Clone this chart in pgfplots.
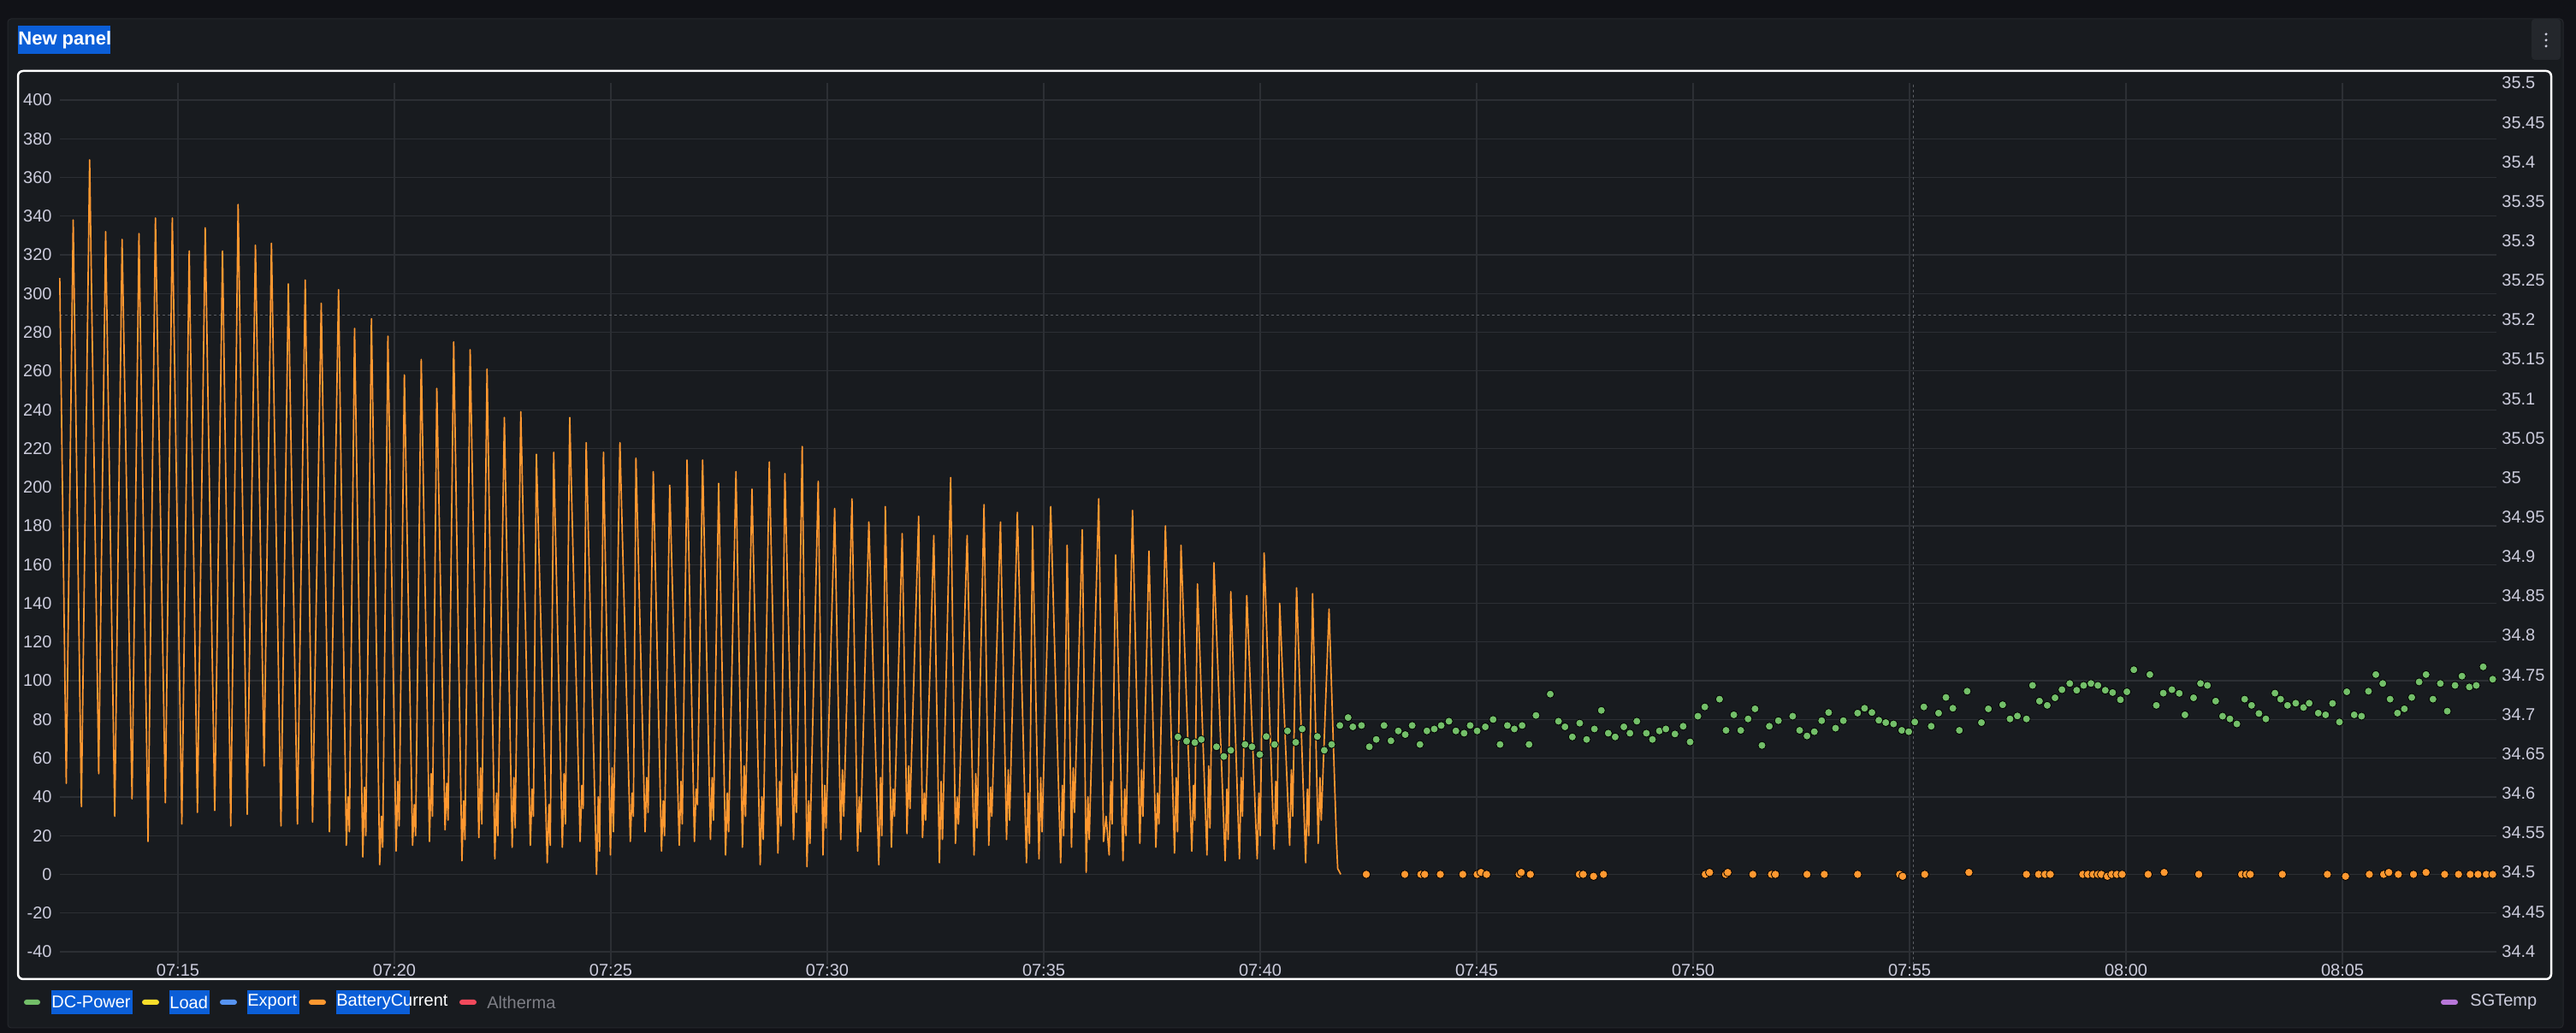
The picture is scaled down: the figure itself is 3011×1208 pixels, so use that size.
\documentclass[border=0pt]{standalone}
\usepackage{fontspec}
\setmainfont{Liberation Sans}
\usepackage{pgfplots}
\pgfplotsset{compat=1.18}
\definecolor{bgpage}{HTML}{111217}
\definecolor{bgpanel}{HTML}{181B1F}
\definecolor{panelbd}{HTML}{25272C}
\definecolor{gridc}{HTML}{2C2F34}
\definecolor{crossc}{HTML}{5A5D63}
\definecolor{txt}{HTML}{CCCCDC}
\definecolor{dimtxt}{HTML}{7E7F86}
\definecolor{selblue}{HTML}{0B5ED7}
\definecolor{btn}{HTML}{24272C}
\definecolor{gOrange}{HTML}{FF9830}
\definecolor{gGreen}{HTML}{73BF69}
\definecolor{gYellow}{HTML}{FADE2A}
\definecolor{gBlue}{HTML}{5794F2}
\definecolor{gRed}{HTML}{F2495C}
\definecolor{gPurple}{HTML}{B877D9}

\pgfplotstableread{
t v
12.27 308
12.42 47
12.58 338
12.77 35
12.96 369
13.17 52
13.33 332
13.54 30
13.71 328
13.94 39
14.10 331
14.31 17
14.48 339
14.71 37
14.87 339
15.09 26
15.26 322
15.45 32
15.63 334
15.85 33
16.03 322
16.22 25
16.39 346
16.60 31
16.79 325
16.99 56
17.16 326
17.38 25
17.55 305
17.76 26
17.94 307
18.11 27
18.31 295
18.50 22
18.71 302
18.89 15
18.93 40
18.96 22
19.08 282
19.27 9
19.31 45
19.34 20
19.47 287
19.66 5
19.70 30
19.73 14
19.85 278
20.04 12
20.08 48
20.11 25
20.23 258
20.42 15
20.46 36
20.49 20
20.62 266
20.81 17
20.85 52
20.88 30
20.98 251
21.17 23
21.21 47
21.24 28
21.37 275
21.56 7
21.60 38
21.63 18
21.75 271
21.95 19
21.99 55
22.02 26
22.14 261
22.32 8
22.36 42
22.39 20
22.54 236
22.72 14
22.76 50
22.79 24
22.92 239
23.14 15
23.18 44
23.21 30
23.28 217
23.53 6
23.57 36
23.60 15
23.68 218
23.88 14
23.92 52
23.95 26
24.05 236
24.29 17
24.33 46
24.36 34
24.43 223
24.67 0
24.71 40
24.74 12
24.83 218
24.99 10
25.03 55
25.06 22
25.21 223
25.45 17
25.49 42
25.52 30
25.58 215
25.79 22
25.83 50
25.86 32
25.98 208
26.17 12
26.21 38
26.24 20
26.36 201
26.58 15
26.62 48
26.65 26
26.76 214
26.93 17
26.97 44
27.00 36
27.12 214
27.30 18
27.34 50
27.37 28
27.49 202
27.65 10
27.69 42
27.72 22
27.89 208
28.04 14
28.08 56
28.11 30
28.26 199
28.45 5
28.49 40
28.52 18
28.66 213
28.86 11
28.90 48
28.93 25
29.02 207
29.22 18
29.26 52
29.29 32
29.42 221
29.53 4
29.57 38
29.60 16
29.79 203
29.90 10
29.94 46
29.97 24
30.17 189
30.31 18
30.35 54
30.38 30
30.57 194
30.70 12
30.74 40
30.77 22
30.96 182
31.19 5
31.23 50
31.26 20
31.34 190
31.48 14
31.52 44
31.55 30
31.73 176
31.84 21
31.88 56
31.91 34
32.11 185
32.20 19
32.24 42
32.27 28
32.46 175
32.59 6
32.63 48
32.66 18
32.85 205
32.96 16
33.00 40
33.03 26
33.23 175
33.39 10
33.43 52
33.46 24
33.62 191
33.73 15
33.77 45
33.80 30
34.00 182
34.14 18
34.18 54
34.21 28
34.39 187
34.60 6
34.64 42
34.67 16
34.74 180
34.89 8
34.93 50
34.96 22
35.16 190
35.39 6
35.43 46
35.46 20
35.54 170
35.64 14
35.68 55
35.71 32
35.89 178
35.98 1
36.02 40
36.05 18
36.27 194
36.38 17
36.44 30
36.51 10
36.55 48
36.58 26
36.66 165
36.83 7
36.87 44
36.90 20
37.05 188
37.22 16
37.26 54
37.29 30
37.43 167
37.59 14
37.63 42
37.66 26
37.81 180
38.02 11
38.06 50
38.09 22
38.17 170
38.42 12
38.46 46
38.49 28
38.55 150
38.77 10
38.81 56
38.84 24
38.93 161
39.19 7
39.23 44
39.26 18
39.32 146
39.52 8
39.56 50
39.59 30
39.69 144
39.93 8
39.97 42
40.00 20
40.09 166
40.32 13
40.36 48
40.39 26
40.45 140
40.68 15
40.72 54
40.75 30
40.84 148
41.05 6
41.09 44
41.12 20
41.21 145
41.34 16
41.38 50
41.41 28
41.59 137
41.76 18
41.79 3
41.86 0
}\battery

\pgfplotstableread{
t v
42.45 0
43.34 0
43.71 0
43.80 0
44.16 0
44.68 0
45.01 0
45.10 1
45.23 0
45.98 0
46.03 1
46.24 0
47.37 0
47.46 0
47.70 -1
47.93 0
50.28 0
50.38 1
50.75 0
50.80 1
51.38 0
51.81 0
51.90 0
52.63 0
53.03 0
53.80 0
54.77 0
54.84 -1
55.35 0
56.37 1
57.70 0
57.98 0
58.13 0
58.25 0
59.00 0
59.12 0
59.24 0
59.35 0
59.43 0
59.57 -1
59.67 0
59.79 0
59.91 0
60.51 0
60.88 1
61.68 0
62.67 0
62.78 0
62.87 0
63.61 0
64.65 0
65.07 -1
65.62 0
65.95 0
66.07 1
66.29 0
66.64 0
66.93 1
67.36 0
67.68 0
67.95 0
68.13 0
68.32 0
68.47 0
}\batterydots

\pgfplotstableread{
t v
38.10 71.0
38.30 68.8
38.49 68.1
38.64 69.7
38.99 65.9
39.16 60.9
39.32 64.1
39.65 67.1
39.81 65.9
39.99 61.9
40.14 71.2
40.33 67.1
40.63 74.1
40.82 68.2
40.97 75.1
41.32 71.2
41.48 64.1
41.65 67.1
41.84 76.9
42.03 81.0
42.14 76.2
42.34 76.9
42.52 65.9
42.68 69.7
42.86 76.9
43.02 69.0
43.19 74.1
43.35 72.2
43.51 76.9
43.69 67.1
43.85 74.1
44.02 75.1
44.18 76.9
44.36 79.1
44.52 74.1
44.71 72.9
44.85 76.9
45.01 74.1
45.20 76.2
45.38 80.0
45.54 67.1
45.71 76.9
45.87 75.1
46.05 76.9
46.21 67.1
46.37 82.1
46.70 93.1
46.89 79.1
47.04 76.2
47.21 71.0
47.38 78.1
47.54 69.7
47.72 75.1
47.88 84.7
48.04 72.9
48.20 71.0
48.40 76.2
48.54 72.9
48.70 79.1
48.92 72.9
49.06 69.7
49.22 74.1
49.37 75.1
49.58 72.5
49.77 76.5
49.93 68.4
50.11 81.7
50.27 86.5
50.61 90.5
50.76 74.4
50.94 82.4
51.10 74.4
51.27 80.3
51.43 85.5
51.59 66.6
51.76 76.5
51.97 79.4
52.30 81.7
52.46 74.4
52.63 71.5
52.80 73.7
52.97 79.4
53.13 83.6
53.29 75.5
53.47 79.4
53.80 83.3
53.96 85.8
54.13 83.6
54.29 79.6
54.45 78.4
54.63 77.7
54.82 74.4
54.98 73.7
55.12 78.7
55.33 86.5
55.50 76.5
55.67 83.3
55.84 91.4
56.00 85.8
56.15 74.4
56.33 94.6
56.66 78.4
56.82 85.5
57.15 87.6
57.32 80.3
57.49 81.8
57.70 80.3
57.84 97.6
58.00 89.5
58.18 87.3
58.36 91.2
58.52 95.4
58.70 98.6
58.86 95.1
59.02 97.6
59.19 98.6
59.35 97.6
59.52 95.1
59.69 93.9
59.87 90.2
60.02 94.3
60.18 105.7
60.55 103.2
60.70 87.3
60.86 93.6
61.06 95.4
61.23 93.5
61.36 82.4
61.56 91.2
61.72 98.6
61.88 97.6
62.07 89.5
62.23 81.7
62.40 80.3
62.56 77.7
62.74 90.5
62.90 87.3
63.07 83.1
63.23 80.3
63.44 93.6
63.57 90.5
63.73 87.3
63.92 88.4
64.10 86.2
64.23 88.4
64.44 83.3
64.61 82.4
64.77 88.3
64.93 78.7
65.10 94.3
65.27 82.4
65.44 81.7
65.60 94.6
65.77 103.2
65.93 98.6
66.10 90.5
66.27 83.3
66.43 85.5
66.60 91.4
66.77 99.4
66.93 103.2
67.09 90.5
67.26 98.6
67.42 84.3
67.60 97.6
67.76 102.4
67.93 96.8
68.09 97.6
68.25 107.2
68.47 100.8
}\dcpower

\begin{document}
\begin{tikzpicture}[x=0.5pt,y=0.5pt]
% page and panel
\fill[bgpage] (0,0) rectangle (3011,1208);
\filldraw[fill=bgpanel,draw=panelbd,line width=0.5pt,rounded corners=2pt] (9,6) rectangle (2996,1186);
% title
\fill[selblue] (21,1145) rectangle (129,1178);
\node[anchor=west,inner sep=0pt,text=white,font=\bfseries\fontsize{11}{13}\selectfont] at (21,1161.5) {New panel};
% menu button
\fill[btn,rounded corners=2pt] (2959,1138) rectangle (2993,1186);
\foreach \yy in {1168,1161,1154} \fill[txt] (2976,\yy) circle (1.7);

\begin{axis}[
  at={(35pt,40pt)}, anchor=south west, scale only axis,
  width=1424pt, height=515.5pt,
  xmin=12.273, xmax=68.557, ymin=-46.6, ymax=408.8,
  axis line style={draw=none}, tick style={draw=none},
  xtick={15,20,25,30,35,40,45,50,55,60,65},
  xticklabels={07:15,07:20,07:25,07:30,07:35,07:40,07:45,07:50,07:55,08:00,08:05},
  ytick={-40,-20,0,20,40,60,80,100,120,140,160,180,200,220,240,260,280,300,320,340,360,380,400},
  yticklabels={-40,-20,0,20,40,60,80,100,120,140,160,180,200,220,240,260,280,300,320,340,360,380,400},
  grid=major, major grid style={draw=gridc, line width=0.6pt},
  ticklabel style={font=\fontsize{10}{12}\selectfont, text=txt},
  xticklabel style={anchor=center, inner sep=0pt, yshift=-3.5pt},
  yticklabel style={anchor=east, inner sep=0pt, xshift=-4.5pt},
  clip=false,
]
\addplot[draw=crossc, line width=0.5pt, dash pattern=on 1.5pt off 1.5pt] coordinates {(12.273,288.8) (68.557,288.8)};
\addplot[draw=crossc, line width=0.5pt, dash pattern=on 1.5pt off 1.5pt] coordinates {(55.08,-46.6) (55.08,408.8)};
\addplot[gOrange, line width=0.85pt, line join=round, mark=none] table[x=t,y=v] {\battery};
\addplot[only marks, mark=*, mark size=2.4pt, mark options={fill=gOrange, draw=none}] table[x=t,y=v] {\batterydots};
\addplot[only marks, mark=*, mark size=2.3pt, mark options={fill=gGreen, draw=none}] table[x=t,y=v] {\dcpower};
\end{axis}

\begin{axis}[
  at={(35pt,40pt)}, anchor=south west, scale only axis,
  width=1424pt, height=515.5pt,
  xmin=0, xmax=1, ymin=34.383, ymax=35.5,
  hide x axis, axis y line*=right,
  axis line style={draw=none}, tick style={draw=none},
  ytick={34.4,34.45,34.5,34.55,34.6,34.65,34.7,34.75,34.8,34.85,34.9,34.95,35,35.05,35.1,35.15,35.2,35.25,35.3,35.35,35.4,35.45,35.5},
  yticklabels={34.4,34.45,34.5,34.55,34.6,34.65,34.7,34.75,34.8,34.85,34.9,34.95,35,35.05,35.1,35.15,35.2,35.25,35.3,35.35,35.4,35.45,35.5},
  yticklabel style={anchor=west, inner sep=0pt, xshift=3pt, font=\fontsize{10}{12}\selectfont, text=txt},
]
\addplot[draw=none] coordinates {(0.5,35)};
\end{axis}

% focus frame
\draw[white, line width=1.25pt, rounded corners=3pt] (21,63) rectangle (2982,1125);

% legend
\begin{scope}[every node/.style={anchor=west,inner sep=0pt,font=\fontsize{10}{12}\selectfont}]
\fill[gGreen,rounded corners=1.5pt] (28,33) rectangle (47,39);
\fill[selblue] (60,22) rectangle (155,50);
\node[text=white] at (60,36) {DC-Power};
\fill[gYellow,rounded corners=1.5pt] (166,33) rectangle (186,39);
\fill[selblue] (198,22) rectangle (245,50);
\node[text=white] at (198,36) {Load};
\fill[gBlue,rounded corners=1.5pt] (257,33) rectangle (277,39);
\fill[selblue] (289,22) rectangle (350,50);
\node[text=white] at (289,36) {Export};
\fill[gOrange,rounded corners=1.5pt] (361,33) rectangle (381,39);
\fill[selblue] (393,22) rectangle (479,50);
\node[text=white] at (393,36) {BatteryCurrent};
\fill[gRed,rounded corners=1.5pt] (537,33) rectangle (557,39);
\node[text=dimtxt] at (569,36) {Altherma};
\fill[gPurple,rounded corners=1.5pt] (2853,33) rectangle (2873,39);
\node[text=txt] at (2887,36) {SGTemp};
\end{scope}
\end{tikzpicture}
\end{document}
